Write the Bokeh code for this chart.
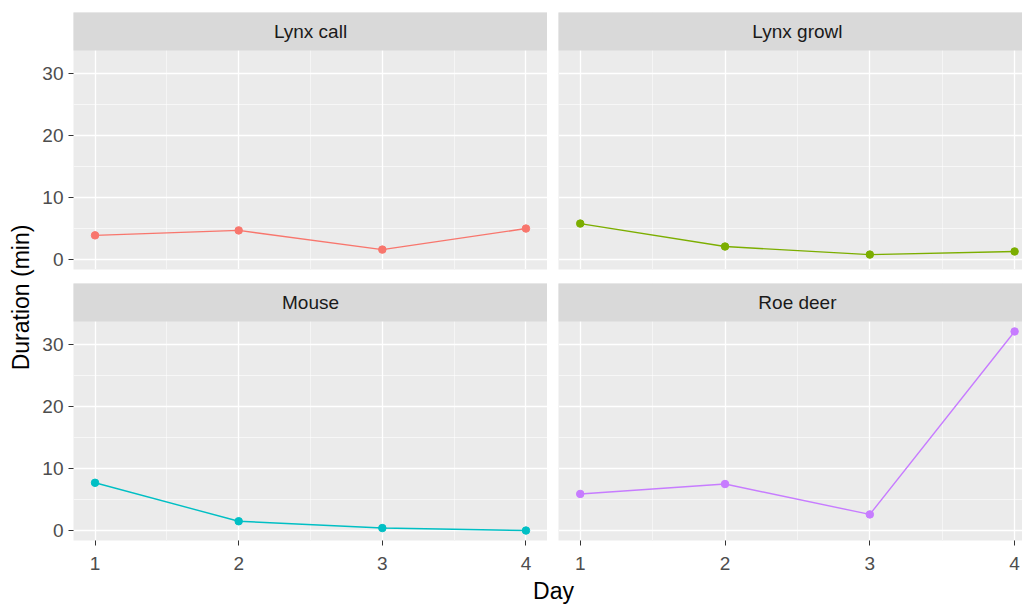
import math
from bokeh.plotting import figure
from bokeh.models import Range1d, FixedTicker, LinearAxis, Grid
from bokeh.layouts import row, column
from bokeh.core.properties import value
from bokeh.embed import file_html
from bokeh.resources import INLINE

# Duration (min) of each sound type over four test days
days = [1, 2, 3, 4]
lynx_call = [3.9, 4.7, 1.6, 5.0]
lynx_growl = [5.8, 2.1, 0.8, 1.3]
mouse = [7.7, 1.5, 0.4, 0.0]
roe_deer = [5.9, 7.5, 2.6, 32.1]

facet_names = ["Lynx call", "Lynx growl", "Mouse", "Roe deer"]
facet_values = [lynx_call, lynx_growl, mouse, roe_deer]
facet_colors = ["#F8766D", "#7CAE00", "#00BFC4", "#C77CFF"]

y_major = [0, 10, 20, 30]
y_minor = [5, 15, 25]
x_major = [1, 2, 3, 4]
x_minor = [1.5, 2.5, 3.5]

FONT = "Liberation Sans"
PANEL_BG = "#EBEBEB"
STRIP_BG = "#D9D9D9"
TICK_FONT_SIZE = "19px"
STRIP_FONT_SIZE = "19px"
TITLE_FONT_SIZE = "23px"

# shared scales (ggplot-style 5% expansion)
all_vals = lynx_call + lynx_growl + mouse + roe_deer
ylo, yhi = min(all_vals), max(all_vals)
ypad = 0.05 * (yhi - ylo)
Y0, Y1 = ylo - ypad, yhi + ypad
xpad = 0.05 * (max(days) - min(days))
X0, X1 = min(days) - xpad, max(days) + xpad

DATA_PX = 219      # height of the plotting area of one facet
STRIP_PX = 38      # height of the facet strip
strip_units = STRIP_PX * (Y1 - Y0) / DATA_PX
Y_TOP = Y1 + strip_units

LEFT_LABEL_W = 36
LEFT_W = 511       # left column figure width (incl. y axis space)
RIGHT_W = 475      # right column figure width (incl. gap)
TOP_H = 276
BOTTOM_H = 301
XLABEL_H = 27

RIGHT_FRAME_W = RIGHT_W - 11
X1_RIGHT = X0 + RIGHT_FRAME_W / 144.8


def style_axis(ax, standoff):
    ax.axis_line_color = None
    ax.major_tick_line_color = "#333333"
    ax.major_tick_in = 0
    ax.major_tick_out = 5
    ax.minor_tick_line_color = None
    ax.major_label_standoff = standoff
    ax.major_label_text_font = FONT
    ax.major_label_text_font_size = TICK_FONT_SIZE
    ax.major_label_text_color = "#4D4D4D"


def make_panel(idx, left_col, bottom_row):
    name = facet_names[idx]
    vals = facet_values[idx]
    color = facet_colors[idx]
    xr_end = X1 if left_col else X1_RIGHT
    p = figure(
        width=LEFT_W if left_col else RIGHT_W,
        height=BOTTOM_H if bottom_row else TOP_H,
        x_range=Range1d(X0, xr_end),
        y_range=Range1d(Y0, Y_TOP),
        x_axis_location=None,
        y_axis_location=None,
        output_backend="svg",
        toolbar_location=None,
        min_border_left=37 if left_col else 11,
        min_border_right=0,
        min_border_top=12 if not bottom_row else 7,
        min_border_bottom=37 if bottom_row else 7,
    )
    p.background_fill_color = PANEL_BG
    p.border_fill_color = "white"
    p.outline_line_color = None

    xt = FixedTicker(ticks=x_major, minor_ticks=x_minor)
    yt = FixedTicker(ticks=y_major, minor_ticks=y_minor)
    gx = Grid(dimension=0, ticker=xt, grid_line_color="white", grid_line_width=1.3,
              minor_grid_line_color="white", minor_grid_line_width=0.6)
    gy = Grid(dimension=1, ticker=yt, grid_line_color="white", grid_line_width=1.3,
              minor_grid_line_color="white", minor_grid_line_width=0.6)
    p.add_layout(gx)
    p.add_layout(gy)

    if left_col:
        ax = LinearAxis(ticker=yt)
        style_axis(ax, 5)
        p.add_layout(ax, "left")
    if bottom_row:
        ax = LinearAxis(ticker=xt)
        style_axis(ax, 11)
        p.add_layout(ax, "below")

    # facet strip (drawn above the grid so it hides the grid lines)
    p.quad(left=X0 - 1, right=xr_end + 1, bottom=Y1, top=Y_TOP + 1,
           fill_color=STRIP_BG, line_color=None)
    p.text(x=[(X0 + X1) / 2], y=[Y1 + strip_units / 2], text=[name],
           text_font=value(FONT), text_font_size=STRIP_FONT_SIZE, text_color="#1A1A1A",
           text_align="center", text_baseline="middle")

    p.line(days, vals, line_color=color, line_width=1.4)
    p.scatter(days, vals, size=7.5, fill_color=color, line_color=color)
    return p


tl = make_panel(0, True, False)
tr = make_panel(1, False, False)
bl = make_panel(2, True, True)
br = make_panel(3, False, True)

# shared axis titles
ylab = figure(width=LEFT_LABEL_W, height=TOP_H + BOTTOM_H + XLABEL_H,
              x_range=Range1d(0, LEFT_LABEL_W),
              y_range=Range1d(TOP_H + BOTTOM_H + XLABEL_H, 0),
              x_axis_location=None, y_axis_location=None,
              output_backend="svg", toolbar_location=None,
              min_border=0, outline_line_color=None)
ylab.grid.visible = False
ylab.text(x=[20], y=[297], text=["Duration (min)"], angle=math.pi / 2,
          text_font=value(FONT), text_font_size=TITLE_FONT_SIZE, text_color="black",
          text_align="center", text_baseline="middle")

xlab = figure(width=LEFT_W + RIGHT_W, height=XLABEL_H,
              x_range=Range1d(LEFT_LABEL_W, LEFT_LABEL_W + LEFT_W + RIGHT_W),
              y_range=Range1d(XLABEL_H, 0),
              x_axis_location=None, y_axis_location=None,
              output_backend="svg", toolbar_location=None,
              min_border=0, outline_line_color=None)
xlab.grid.visible = False
xlab.text(x=[553], y=[13], text=["Day"],
          text_font=value(FONT), text_font_size=TITLE_FONT_SIZE, text_color="black",
          text_align="center", text_baseline="middle")

layout = row(ylab, column(row(tl, tr), row(bl, br), xlab))

with open("out.html", "w") as f:
    f.write(file_html(layout, INLINE))
